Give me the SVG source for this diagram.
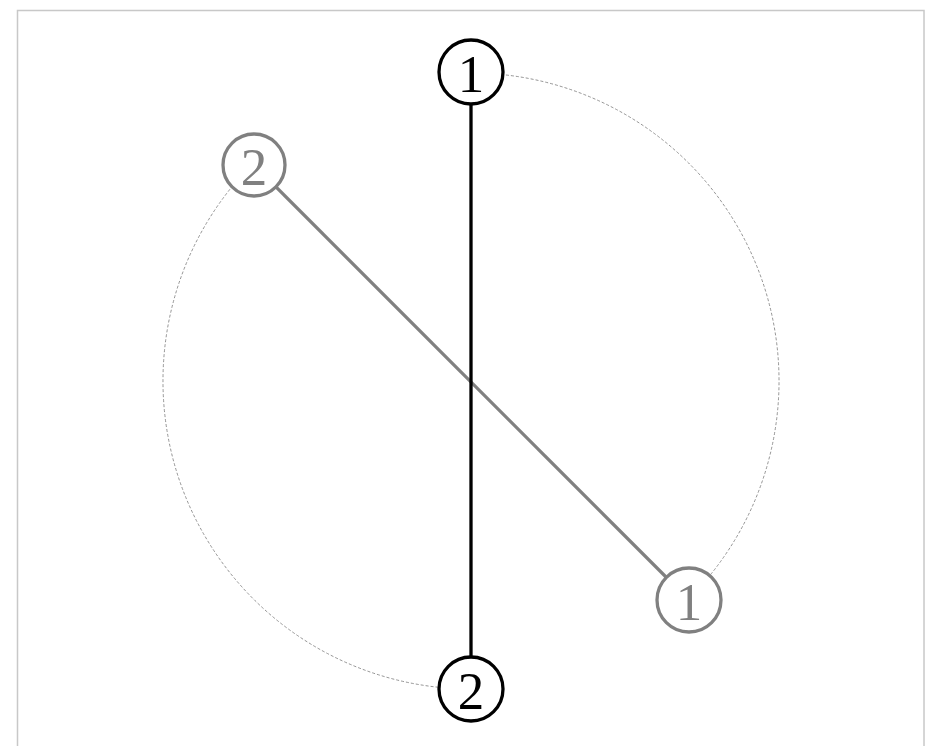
<svg xmlns="http://www.w3.org/2000/svg" width="933" height="746" viewBox="0 0 933 746">
<style>
.frame{fill:none;stroke:#c8c8c8;stroke-width:1.5}
.guide{fill:none;stroke:#7a7a7a;stroke-width:0.8;stroke-dasharray:3 2}
.edge{fill:none;stroke-width:3.3}
.node circle{fill:#fff;stroke-width:3.3}
.node text{font-family:"Liberation Serif","Times New Roman",serif;font-size:53px;text-anchor:middle;dominant-baseline:central}
.black circle{stroke:#000}
.black text{fill:#000}
.gray circle{stroke:#808080}
.gray text{fill:#808080}
</style>
<rect width="933" height="746" fill="#fff"/>
<rect class="frame" x="17.5" y="10.5" width="906.5" height="760"/>
<g id="connectors">
<path class="guide" d="M471 73 A308 308 0 0 1 688.8 598.8"/>
<path class="guide" d="M253.2 163.2 A308 308 0 0 0 471 689"/>
<line class="edge" x1="254" y1="165" x2="689" y2="600" stroke="#808080"/>
<line class="edge" x1="471" y1="73" x2="471" y2="689" stroke="#000"/>
</g>
<g id="node-black-1" class="node black"><circle cx="471" cy="72" r="32"/><text x="471" y="74">1</text></g>
<g id="node-black-2" class="node black"><circle cx="471" cy="689" r="32"/><text x="471" y="691">2</text></g>
<g id="node-gray-2" class="node gray"><circle cx="254" cy="165" r="31"/><text x="254" y="167">2</text></g>
<g id="node-gray-1" class="node gray"><circle cx="689" cy="600" r="32"/><text x="689" y="602">1</text></g>
</svg>
